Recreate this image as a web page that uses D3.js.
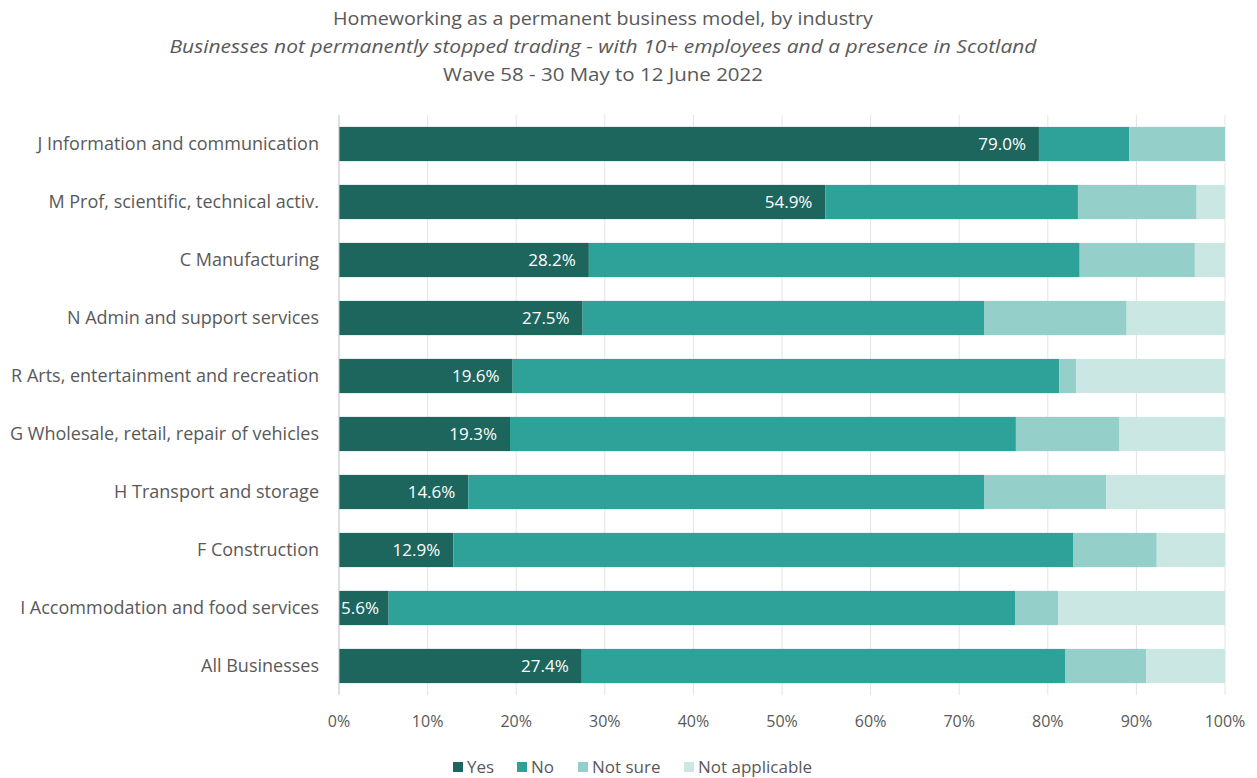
<!DOCTYPE html>
<html>
<head>
<meta charset="utf-8">
<script src="https://cdn.jsdelivr.net/npm/d3@7"></script>
<style>
  body { margin: 0; background: #fff; }
  svg { display: block; font-family: "Open Sans", Lato, sans-serif; }
</style>
</head>
<body>
<svg id="chart" width="1257" height="778"></svg>
<script>
const categories = [
  "J Information and communication",
  "M Prof, scientific, technical activ.",
  "C Manufacturing",
  "N Admin and support services",
  "R Arts, entertainment and recreation",
  "G Wholesale, retail, repair of vehicles",
  "H Transport and storage",
  "F Construction",
  "I Accommodation and food services",
  "All Businesses"
];
const seriesNames = ["Yes", "No", "Not sure", "Not applicable"];
const yesValues    = [79.0, 54.9, 28.2, 27.5, 19.6, 19.3, 14.6, 12.9, 5.6, 27.4];
const noValues     = [10.2, 28.5, 55.4, 45.3, 61.7, 57.1, 58.2, 70.0, 70.7, 54.6];
const notSureValues= [10.8, 13.4, 13.0, 16.1, 1.9, 11.7, 13.8, 9.4, 4.9, 9.1];
const naValues     = [0.0, 3.2, 3.4, 11.1, 16.8, 11.9, 13.4, 7.7, 18.8, 8.9];
const xTicks = [0, 10, 20, 30, 40, 50, 60, 70, 80, 90, 100];
const colors = ["#1d665e", "#2ea198", "#94d0c9", "#cbe7e3"];

const rows = categories.map((c, i) => ({
  cat: c, "Yes": yesValues[i], "No": noValues[i],
  "Not sure": notSureValues[i], "Not applicable": naValues[i]
}));

const svg = d3.select("#chart");
const x = d3.scaleLinear().domain([0, 100]).range([339, 1225]);
const y = d3.scaleBand().domain(categories).range([115, 695]).paddingInner(0.41).paddingOuter(0.205);
const color = d3.scaleOrdinal().domain(seriesNames).range(colors);

// Titles
const tg = svg.append("g").attr("fill", "#595959").attr("text-anchor", "middle");
tg.append("text").attr("x", 603).attr("y", 25).attr("font-size", 19)
  .attr("textLength", 540).attr("lengthAdjust", "spacingAndGlyphs")
  .text("Homeworking as a permanent business model, by industry");
tg.append("text").attr("x", 603).attr("y", 53).attr("font-size", 18).attr("font-style", "italic")
  .attr("textLength", 867).attr("lengthAdjust", "spacingAndGlyphs")
  .text("Businesses not permanently stopped trading -  with 10+ employees and a presence in Scotland");
tg.append("text").attr("x", 603).attr("y", 81).attr("font-size", 19)
  .attr("textLength", 320).attr("lengthAdjust", "spacingAndGlyphs")
  .text("Wave 58 - 30 May to 12 June 2022");

// Gridlines
svg.append("g").selectAll("line").data(xTicks.slice(1)).join("line")
  .attr("x1", d => x(d)).attr("x2", d => x(d))
  .attr("y1", 115).attr("y2", 695)
  .attr("stroke", "#e4e4e4").attr("stroke-width", 1);

// Stacked bars
const stack = d3.stack().keys(seriesNames)(rows);
svg.append("g").selectAll("g").data(stack).join("g")
  .attr("fill", d => color(d.key))
  .selectAll("rect").data(d => d).join("rect")
  .attr("x", d => x(d[0]))
  .attr("width", d => Math.max(0, x(d[1]) - x(d[0])))
  .attr("y", d => y(d.data.cat))
  .attr("height", y.bandwidth());

// Axis line
svg.append("line").attr("x1", x(0)).attr("x2", x(0)).attr("y1", 115).attr("y2", 695)
  .attr("stroke", "#bfbfbf");

// Data labels for Yes
svg.append("g").selectAll("text").data(rows).join("text")
  .attr("y", d => y(d.cat) + y.bandwidth() / 2)
  .attr("dy", "0.35em")
  .attr("text-anchor", "end")
  .attr("fill", "#ffffff")
  .attr("font-size", 17)
  .text(d => d["Yes"].toFixed(1) + "%")
  .each(function(d) {
    const w = this.getComputedTextLength();
    const xe = Math.max(x(d["Yes"]) - 13, x(0) + 2 + w);
    d3.select(this).attr("x", xe);
  });

// Category labels
svg.append("g").selectAll("text").data(categories).join("text")
  .attr("x", 319)
  .attr("y", d => y(d) + y.bandwidth() / 2)
  .attr("dy", "0.35em")
  .attr("text-anchor", "end")
  .attr("fill", "#595959")
  .attr("font-size", 18)
  .text(d => d);

// X tick labels
svg.append("g").selectAll("text").data(xTicks).join("text")
  .attr("x", d => x(d))
  .attr("y", 727)
  .attr("text-anchor", "middle")
  .attr("fill", "#595959")
  .attr("font-size", 16)
  .text(d => d + "%");

// Legend
const legendX = [453, 517, 578, 684];
const lg = svg.append("g").selectAll("g").data(seriesNames).join("g")
  .attr("transform", (d, i) => `translate(${legendX[i]},767)`);
lg.append("rect").attr("x", 0).attr("y", -5).attr("width", 10).attr("height", 10)
  .attr("fill", d => color(d));
lg.append("text").attr("x", 14).attr("y", 0).attr("dy", "0.35em")
  .attr("fill", "#595959").attr("font-size", 17).text(d => d);
</script>
</body>
</html>
